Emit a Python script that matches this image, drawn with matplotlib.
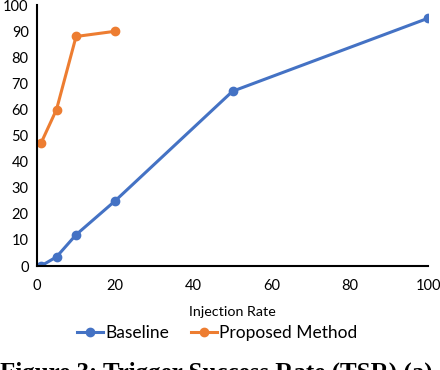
import matplotlib.pyplot as plt

# Dane
baseline_x = [1, 5, 10, 20, 50, 100]
baseline_y = [0, 3.5, 12, 25, 67, 95]
proposed_x = [1, 5, 10, 20]
proposed_y = [47, 60, 88, 90]
x_ticks = [0, 20, 40, 60, 80, 100]
y_ticks = [0, 10, 20, 30, 40, 50, 60, 70, 80, 90, 100]

plt.rcParams['font.family'] = ['Lato', 'DejaVu Sans']

fig = plt.figure(figsize=(4.4, 3.7), dpi=100)
ax = fig.add_axes([0.084, 0.281, 0.889, 0.705])

ax.plot(baseline_x, baseline_y, '-o', color='#4472C4', lw=2.2, ms=6, label='Baseline')
ax.plot(proposed_x, proposed_y, '-o', color='#ED7D31', lw=2.2, ms=6, label='Proposed Method')

ax.set_xlim(0, 100)
ax.set_ylim(0, 100)
ax.set_xticks(x_ticks)
ax.set_yticks(y_ticks)
ax.tick_params(length=0, labelsize=10.5)
ax.tick_params(axis='x', pad=9)
ax.tick_params(axis='y', pad=6)
ax.spines['top'].set_visible(False)
ax.spines['right'].set_visible(False)
ax.spines['left'].set_linewidth(1.5)
ax.spines['bottom'].set_linewidth(1.5)
ax.set_xlabel('Injection Rate', fontsize=10.3, labelpad=10)

fig.legend(loc='center', bbox_to_anchor=(0.494, 0.1), ncol=2, frameon=False,
           fontsize=12.5, handlelength=1.5, columnspacing=1.3, handletextpad=0.1)

fig.text(0.0, 0.022, 'Figure 3: Trigger Success Rate (TSR) (a)', fontsize=18,
         fontweight='bold', family='Liberation Serif', va='top', ha='left')

plt.savefig('out.png', dpi=100)
